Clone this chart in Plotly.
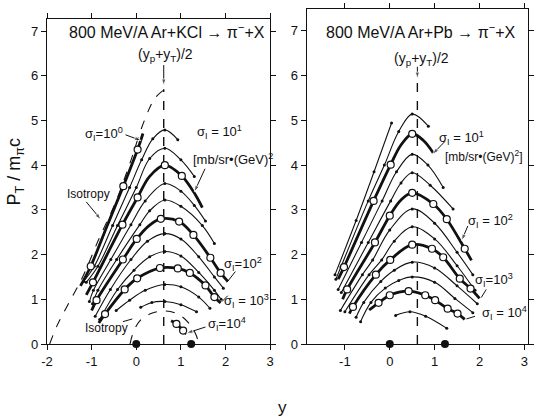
import plotly.graph_objects as go

# Rapidities of target and projectile, and midrapidity
Y_T = 0.0
Y_P = 1.23
Y_MID = (Y_P + Y_T) / 2

x_tickvals = [-2, -1, 0, 1, 2, 3]
x_ticktext = ["-2", "-1", "0", "1", "2", "3"]
y_tickvals = [0, 1, 2, 3, 4, 5, 6, 7]

# ---------------- 800 MeV/A Ar + KCl -> pi- + X ----------------
# Contours of constant invariant cross section, points are (y, pT / m_pi c)
kcl_1e0 = [(-1.25, 1.30), (-1.02, 1.74), (-0.65, 2.65), (-0.29, 3.53), (0.03, 4.35), (0.15, 4.71)]
kcl_a1 = [(-1.18, 1.40), (-0.94, 1.74), (-0.53, 2.65), (-0.15, 3.50), (0.12, 4.12), (0.37, 4.59),
          (0.64, 4.79), (0.93, 4.57)]
kcl_a2 = [(-1.12, 1.38), (-0.86, 1.74), (-0.42, 2.65), (0.00, 3.50), (0.30, 4.15), (0.64, 4.38),
          (1.00, 4.12), (1.30, 3.75)]
kcl_1e1 = [(-1.12, 1.10), (-0.97, 1.38), (-0.31, 2.67), (0.03, 3.28), (0.30, 3.75), (0.64, 4.00),
           (1.02, 3.76), (1.33, 3.33), (1.48, 3.05)]
kcl_b1 = [(-1.05, 0.95), (-0.96, 1.20), (-0.57, 1.89), (-0.12, 2.67), (0.20, 3.20), (0.64, 3.59),
          (1.00, 3.42), (1.30, 3.10), (1.55, 2.75)]
kcl_b2 = [(-0.98, 0.90), (-0.86, 1.20), (-0.44, 1.89), (0.08, 2.67), (0.30, 2.98), (0.64, 3.22),
          (1.00, 3.08), (1.48, 2.65), (1.75, 2.25)]
kcl_1e2 = [(-1.00, 0.75), (-0.89, 0.98), (-0.30, 1.89), (0.01, 2.35), (0.30, 2.66), (0.55, 2.80),
           (0.96, 2.74), (1.28, 2.44), (1.66, 1.93), (1.89, 1.59), (2.05, 1.40)]
kcl_c1 = [(-0.92, 0.62), (-0.58, 1.22), (-0.12, 1.89), (0.25, 2.30), (0.64, 2.47), (1.00, 2.35),
          (1.40, 1.95), (1.75, 1.50), (1.95, 1.25)]
kcl_c2 = [(-0.82, 0.55), (-0.42, 1.22), (-0.05, 1.65), (0.30, 1.95), (0.64, 2.07), (1.00, 1.97),
          (1.40, 1.60), (1.75, 1.20), (1.90, 1.00)]
kcl_1e3 = [(-0.84, 0.47), (-0.70, 0.67), (-0.26, 1.22), (0.02, 1.47), (0.53, 1.70), (0.93, 1.69),
           (1.20, 1.59), (1.55, 1.31), (1.75, 1.05), (1.89, 0.92)]
kcl_d1 = [(-0.45, 0.75), (-0.15, 0.98), (0.20, 1.20), (0.64, 1.33), (1.00, 1.28), (1.40, 1.05), (1.65, 0.80)]
kcl_d2 = [(0.10, 0.82), (0.35, 0.93), (0.64, 0.95), (1.00, 0.88), (1.35, 0.72)]
kcl_1e4 = [(0.78, 0.52), (0.90, 0.45), (1.05, 0.30), (1.12, 0.22)]

# Measured points (open circles)
kcl_points = [(0.03, 4.35), (-0.29, 3.53), (-1.02, 1.74),
              (0.03, 3.28), (-0.31, 2.67), (-0.97, 1.38), (0.64, 4.00), (1.02, 3.76),
              (0.01, 2.35), (-0.30, 1.89), (-0.89, 0.98), (0.55, 2.80), (0.96, 2.74),
              (1.28, 2.44), (1.66, 1.93), (1.89, 1.59),
              (0.02, 1.47), (-0.26, 1.22), (-0.70, 0.67), (0.53, 1.70), (0.93, 1.69),
              (1.20, 1.59), (1.55, 1.31), (1.75, 1.05),
              (0.90, 0.45), (1.05, 0.30)]

# Isotropic-emission contours (dashed)
kcl_iso_outer = [(-1.94, 0.00), (-1.78, 0.40), (-1.52, 0.90), (-1.21, 1.48), (-0.85, 2.32),
                 (-0.46, 3.18), (-0.13, 4.08), (0.17, 4.97), (0.42, 5.50), (0.64, 5.70)]
kcl_iso_inner = [(-0.14, 0.00), (-0.06, 0.28), (0.08, 0.52), (0.33, 0.68), (0.64, 0.74),
                 (0.95, 0.66), (1.20, 0.44), (1.34, 0.20), (1.40, 0.00)]

# ---------------- 800 MeV/A Ar + Pb -> pi- + X ----------------
pb_a0 = [(-1.22, 1.55), (-0.75, 2.76), (-0.35, 3.85), (0.04, 4.94)]
pb_a1 = [(-1.20, 1.45), (-1.09, 1.72), (-0.48, 3.20), (-0.12, 4.00), (0.20, 4.75), (0.50, 5.14), (0.86, 4.87)]
pb_1e1 = [(-1.15, 1.45), (-1.02, 1.72), (-0.36, 3.20), (0.02, 4.01), (0.25, 4.45), (0.50, 4.70),
          (0.75, 4.55), (0.97, 4.27)]
pb_b1 = [(-1.15, 1.22), (-0.63, 2.27), (-0.17, 3.20), (0.15, 3.85), (0.50, 4.24), (0.85, 4.00), (1.19, 3.50)]
pb_b2 = [(-1.08, 1.15), (-0.48, 2.27), (0.02, 3.20), (0.25, 3.60), (0.50, 3.83), (0.90, 3.55), (1.41, 3.02)]
pb_1e2 = [(-1.05, 1.00), (-0.95, 1.22), (-0.33, 2.27), (0.00, 2.87), (0.25, 3.22), (0.50, 3.38),
          (0.97, 3.13), (1.27, 2.79), (1.67, 2.13), (1.82, 1.87)]
pb_c1 = [(-1.10, 0.75), (-0.61, 1.55), (-0.38, 1.88), (0.00, 2.55), (0.50, 3.02), (1.00, 2.70),
         (1.50, 2.05), (1.85, 1.55)]
pb_c2 = [(-1.00, 0.72), (-0.46, 1.55), (-0.18, 1.88), (0.10, 2.30), (0.50, 2.62), (1.00, 2.35),
         (1.50, 1.75), (1.90, 1.20)]
pb_1e3 = [(-0.90, 0.68), (-0.82, 0.83), (-0.31, 1.55), (0.01, 1.88), (0.50, 2.22), (0.94, 2.13),
          (1.19, 1.94), (1.56, 1.46), (1.80, 1.24), (2.00, 1.02)]
pb_d1 = [(-0.75, 0.60), (-0.58, 0.93), (-0.20, 1.40), (0.10, 1.65), (0.50, 1.83), (1.00, 1.70),
         (1.50, 1.30), (1.95, 0.90)]
pb_d2 = [(-0.65, 0.50), (-0.42, 0.93), (-0.10, 1.25), (0.20, 1.42), (0.50, 1.50), (1.00, 1.38),
         (1.45, 1.02), (1.85, 0.70)]
pb_1e4 = [(-0.46, 0.76), (-0.25, 0.92), (0.00, 1.09), (0.42, 1.18), (0.79, 1.09), (1.01, 0.98),
          (1.29, 0.79), (1.51, 0.68), (1.67, 0.55)]
pb_e1 = [(0.13, 0.64), (0.45, 0.72), (0.80, 0.62), (1.27, 0.35)]

pb_points = [(-1.02, 1.72), (-0.36, 3.20), (0.02, 4.01), (0.50, 4.70),
             (-0.95, 1.22), (-0.33, 2.27), (0.00, 2.87), (0.50, 3.38), (0.97, 3.13), (1.27, 2.79), (1.67, 2.13),
             (-0.82, 0.83), (-0.31, 1.55), (0.01, 1.88), (0.50, 2.22), (0.94, 2.13), (1.19, 1.94),
             (1.56, 1.46), (1.80, 1.24),
             (-0.25, 0.92), (0.00, 1.09), (0.42, 1.18), (0.79, 1.09), (1.01, 0.98), (1.29, 0.79), (1.51, 0.68)]

INK = "#111111"
FONT = "Liberation Sans"

fig = go.Figure()


def xs(pts):
    return [p[0] for p in pts]


def ys(pts):
    return [p[1] for p in pts]


def add_curve(pts, xa, ya, thick, dash=None, dots=False):
    fig.add_trace(go.Scatter(
        x=xs(pts), y=ys(pts), xaxis=xa, yaxis=ya,
        mode="lines+markers" if dots else "lines",
        line=dict(color=INK, width=2.8 if thick else 1.1, shape="spline", smoothing=1.0,
                  dash=dash or "solid"),
        marker=dict(size=3, color=INK),
        hoverinfo="skip", showlegend=False))


def pointer(x0, y0, x1, y1, xa, ya, head=True):
    # leader line from a label to a curve, optionally ending in an arrowhead
    fig.add_trace(go.Scatter(
        x=[x0, x1], y=[y0, y1], xaxis=xa, yaxis=ya,
        mode="lines+markers" if head else "lines",
        line=dict(color=INK, width=1.0),
        marker=dict(symbol="arrow", angleref="previous", size=[0, 7], color=INK),
        cliponaxis=False, hoverinfo="skip", showlegend=False))


panels = [
    ("x", "y",
     [kcl_1e0, kcl_1e1, kcl_1e2, kcl_1e3, kcl_1e4],
     [kcl_a1, kcl_a2, kcl_b1, kcl_b2, kcl_c1, kcl_c2, kcl_d1, kcl_d2],
     [kcl_iso_outer, kcl_iso_inner], kcl_points, 5.70),
    ("x2", "y2",
     [pb_1e1, pb_1e2, pb_1e3, pb_1e4],
     [pb_a0, pb_a1, pb_b1, pb_b2, pb_c1, pb_c2, pb_d1, pb_d2, pb_e1],
     [], pb_points, 5.91),
]

for xa, ya, thick_set, thin_set, iso_set, pts, mid_top in panels:
    for c in iso_set:
        add_curve(c, xa, ya, False, dash="dash")
    for c in thin_set:
        add_curve(c, xa, ya, False, dots=True)
    for c in thick_set:
        add_curve(c, xa, ya, True)
    # midrapidity line
    fig.add_trace(go.Scatter(x=[Y_MID, Y_MID], y=[0, mid_top], xaxis=xa, yaxis=ya, mode="lines",
                             line=dict(color=INK, width=1.4, dash="dash"),
                             hoverinfo="skip", showlegend=False))
    # measured points
    fig.add_trace(go.Scatter(x=xs(pts), y=ys(pts), xaxis=xa, yaxis=ya, mode="markers",
                             marker=dict(symbol="circle", size=7, color="white",
                                         line=dict(color=INK, width=1.2)),
                             hoverinfo="skip", showlegend=False))
    # target and projectile rapidities
    fig.add_trace(go.Scatter(x=[Y_T, Y_P], y=[0, 0], xaxis=xa, yaxis=ya, mode="markers",
                             marker=dict(size=8, color=INK), cliponaxis=False,
                             hoverinfo="skip", showlegend=False))

# arrows marking midrapidity
pointer(Y_MID, 6.24, Y_MID, 5.78, "x", "y")
pointer(Y_MID, 6.20, Y_MID, 5.93, "x2", "y2")

# leaders from the labels to the contours
pointer(-0.24, 4.68, 0.11, 4.55, "x", "y")
pointer(1.54, 3.92, 1.30, 3.40, "x", "y")
pointer(2.22, 1.62, 2.03, 1.38, "x", "y", head=False)
pointer(2.05, 1.08, 1.92, 0.95, "x", "y", head=False)
pointer(1.55, 0.38, 1.12, 0.24, "x", "y")
pointer(-1.12, 3.18, -0.79, 2.78, "x", "y")
pointer(-0.30, 0.50, -0.09, 0.56, "x", "y", head=False)
pointer(1.23, 4.53, 0.95, 4.24, "x2", "y2")
pointer(1.74, 2.64, 1.60, 2.31, "x2", "y2")
pointer(2.15, 1.22, 2.04, 1.04, "x2", "y2", head=False)
pointer(1.90, 0.62, 1.71, 0.56, "x2", "y2", head=False)

axis_common = dict(showline=True, linecolor=INK, linewidth=1.4, mirror="ticks", ticks="outside",
                   ticklen=5, tickwidth=1.2, tickcolor=INK, showgrid=False, zeroline=False,
                   tickfont=dict(family=FONT, size=13, color=INK), fixedrange=True)

fig.update_layout(
    width=537, height=417,
    margin=dict(l=47, r=3, t=7, b=73),
    paper_bgcolor="white", plot_bgcolor="white",
    font=dict(family=FONT, color=INK),
    xaxis=dict(domain=[0, 0.464], range=[-2, 3], anchor="y", tickvals=x_tickvals,
               ticktext=x_ticktext, **axis_common),
    yaxis=dict(domain=[0, 0.970], range=[0, 7.27], anchor="x", tickvals=y_tickvals, **axis_common),
    xaxis2=dict(domain=[0.54, 1.0], range=[-1.85, 3.08], anchor="y2", tickvals=x_tickvals,
                ticktext=x_ticktext, **axis_common),
    yaxis2=dict(domain=[0, 1.0], range=[0, 7.49], anchor="x2", tickvals=y_tickvals, **axis_common),
)

S = "σ<sub>I</sub>"
ann = []


def label(text, x, y, xa, ya, size=13):
    ann.append(dict(text=text, x=x, y=y, xref=xa, yref=ya, showarrow=False,
                    xanchor="center", yanchor="middle",
                    font=dict(family=FONT, size=size, color=INK)))


# left panel texts
label("800 MeV/A Ar+KCl → π<sup>−</sup>+X", 0.68, 7.0, "x", "y", size=16)
label("(y<sub>p</sub>+y<sub>T</sub>)/2", 0.66, 6.46, "x", "y", size=14)
label(S + "=10<sup>0</sup>", -0.73, 4.70, "x", "y")
label(S + " = 10<sup>1</sup>", 1.87, 4.74, "x", "y")
label("[mb/sr•(GeV)<sup>2</sup>", 2.16, 4.14, "x", "y", size=13)
label(S + "=10<sup>2</sup>", 2.38, 1.80, "x", "y")
label(S + " = 10<sup>3</sup>", 2.47, 0.96, "x", "y")
label(S + "=10<sup>4</sup>", 2.03, 0.45, "x", "y")
label("Isotropy", -1.06, 3.36, "x", "y", size=12)
label("Isotropy", -0.66, 0.36, "x", "y", size=12)
label("y<sub>T</sub>", Y_T, -0.65, "x", "y")
label("y<sub>p</sub>", Y_P, -0.65, "x", "y")

# right panel texts
label("800 MeV/A Ar+Pb → π<sup>−</sup>+X", 0.70, 7.0, "x2", "y2", size=16)
label("(y<sub>p</sub>+y<sub>T</sub>)/2", 0.70, 6.38, "x2", "y2", size=14)
label(S + " = 10<sup>1</sup>", 1.60, 4.60, "x2", "y2")
label("[mb/sr•(GeV)<sup>2</sup>]", 2.11, 4.20, "x2", "y2", size=12)
label(S + " = 10<sup>2</sup>", 2.24, 2.76, "x2", "y2")
label(S + "=10<sup>3</sup>", 2.33, 1.42, "x2", "y2")
label(S + " = 10<sup>4</sup>", 2.55, 0.69, "x2", "y2")
label("y<sub>T</sub>", Y_T, -0.62, "x2", "y2")
label("y<sub>p</sub>", Y_P, -0.62, "x2", "y2")

# axis titles
ann.append(dict(text="P<sub>T</sub> / m<sub>π</sub>c", x=-0.066, y=0.513, xref="paper", yref="paper",
                xanchor="center", yanchor="middle",
                showarrow=False, textangle=-90, font=dict(family=FONT, size=18, color=INK)))
ann.append(dict(text="y", x=0.489, y=-0.19, xref="paper", yref="paper", showarrow=False,
                xanchor="center", yanchor="middle",
                font=dict(family=FONT, size=17, color=INK)))

fig.update_layout(annotations=ann)
fig.write_html("out.html")
